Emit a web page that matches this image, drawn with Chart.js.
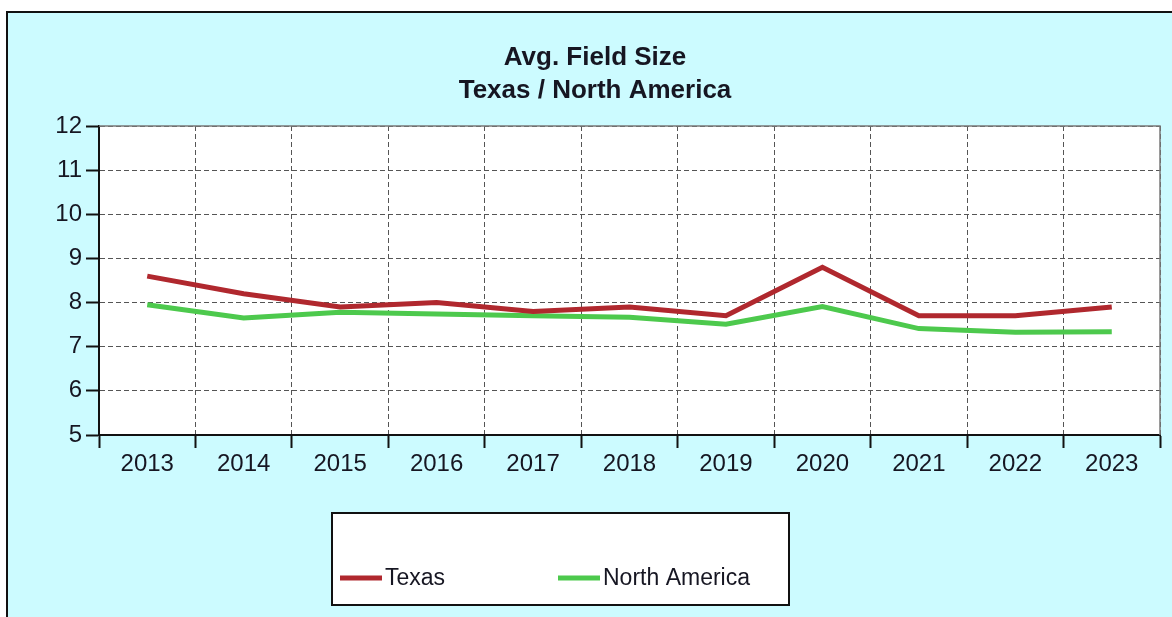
<!DOCTYPE html>
<html>
<head>
<meta charset="UTF-8">
<title>Avg. Field Size</title>
<script src="https://cdn.jsdelivr.net/npm/chart.js"></script>
<style>
  body { margin: 0; background: #fff; }
  #wrap { width: 1172px; height: 617px; }
</style>
</head>
<body>
<div id="wrap"><canvas id="fieldSize" width="1172" height="617"></canvas></div>
<script>
// chart data
const years = ['2013', '2014', '2015', '2016', '2017', '2018', '2019', '2020', '2021', '2022', '2023'];
const texas = [8.6, 8.2, 7.9, 8.0, 7.8, 7.9, 7.7, 8.8, 7.7, 7.7, 7.9];
const northAmerica = [7.95, 7.65, 7.78, 7.74, 7.7, 7.67, 7.51, 7.91, 7.41, 7.33, 7.34];
const titleLines = ['Avg. Field Size', 'Texas / North America'];

const FONT = '"Liberation Sans", Arial, sans-serif';
const TEXT = '#161622';

// background, frame, title and legend box
const decor = {
    id: 'decor',
    beforeDraw(chart) {
        const ctx = chart.ctx;
        const a = chart.chartArea;
        ctx.save();
        ctx.fillStyle = '#fff';
        ctx.fillRect(0, 0, chart.width, chart.height);
        ctx.fillStyle = '#ccfbff';
        ctx.fillRect(6, 12, chart.width, chart.height);
        ctx.strokeStyle = '#111';
        ctx.lineWidth = 2;
        ctx.beginPath();
        ctx.moveTo(7, chart.height + 5);
        ctx.lineTo(7, 12);
        ctx.lineTo(chart.width + 5, 12);
        ctx.stroke();
        ctx.fillStyle = '#fff';
        ctx.fillRect(a.left, a.top, a.right - a.left, a.bottom - a.top);

        ctx.fillStyle = TEXT;
        ctx.font = 'bold 26px ' + FONT;
        ctx.textAlign = 'center';
        ctx.textBaseline = 'alphabetic';
        ctx.fillText(titleLines[0], 595, 65);
        ctx.fillText(titleLines[1], 595, 98);
        ctx.restore();
    },
    afterDraw(chart) {
        const ctx = chart.ctx;
        const a = chart.chartArea;
        ctx.save();
        // top and right edge of plot
        ctx.strokeStyle = '#7a7a7a';
        ctx.lineWidth = 1.5;
        ctx.beginPath();
        ctx.moveTo(a.left, a.top);
        ctx.lineTo(a.right, a.top);
        ctx.lineTo(a.right, a.bottom);
        ctx.stroke();

        // legend
        ctx.fillStyle = '#fff';
        ctx.fillRect(332, 513, 457, 92);
        ctx.strokeStyle = '#111';
        ctx.lineWidth = 2;
        ctx.strokeRect(332, 513, 457, 92);
        const xs = [340, 558];
        ctx.font = '23px ' + FONT;
        ctx.textBaseline = 'middle';
        ctx.textAlign = 'left';
        chart.data.datasets.forEach((ds, i) => {
            ctx.strokeStyle = ds.borderColor;
            ctx.lineWidth = 5;
            ctx.beginPath();
            ctx.moveTo(xs[i], 578);
            ctx.lineTo(xs[i] + 42, 578);
            ctx.stroke();
            ctx.fillStyle = TEXT;
            ctx.fillText(ds.label, xs[i] + 45, 579);
        });
        ctx.restore();
    }
};

const ctx = document.getElementById('fieldSize').getContext('2d');
const chart = new Chart(ctx, {
    type: 'line',
    data: {
        labels: years,
        datasets: [{
            label: 'Texas',
            data: texas,
            borderColor: '#b0282e',
            borderWidth: 5,
            pointRadius: 0,
            tension: 0
        }, {
            label: 'North America',
            data: northAmerica,
            borderColor: '#4dc94d',
            borderWidth: 5,
            pointRadius: 0,
            tension: 0
        }]
    },
    options: {
        responsive: false,
        animation: false,
        layout: { padding: { left: 0, top: 126, right: 12, bottom: 0 } },
        plugins: {
            legend: { display: false },
            title: { display: false },
            tooltip: { enabled: false }
        },
        scales: {
            x: {
                offset: true,
                afterFit(scale) { scale.height = 182; },
                grid: {
                    offset: true,
                    color: '#555',
                    lineWidth: 1,
                    tickLength: 13,
                    tickColor: '#111',
                    tickWidth: 2,
                    tickBorderDash: []
                },
                border: { color: '#111', width: 2, dash: [5, 3] },
                ticks: {
                    color: TEXT,
                    font: { family: FONT, size: 24 },
                    padding: 2,
                    maxRotation: 0
                }
            },
            y: {
                min: 5,
                max: 12,
                afterFit(scale) { scale.width = 99; },
                grid: {
                    color: '#555',
                    lineWidth: 1,
                    tickLength: 13,
                    tickColor: '#111',
                    tickWidth: 2,
                    tickBorderDash: []
                },
                border: { color: '#111', width: 2, dash: [5, 3] },
                ticks: {
                    stepSize: 1,
                    color: TEXT,
                    font: { family: FONT, size: 24 },
                    padding: 4
                }
            }
        }
    },
    plugins: [decor]
});
</script>
</body>
</html>
